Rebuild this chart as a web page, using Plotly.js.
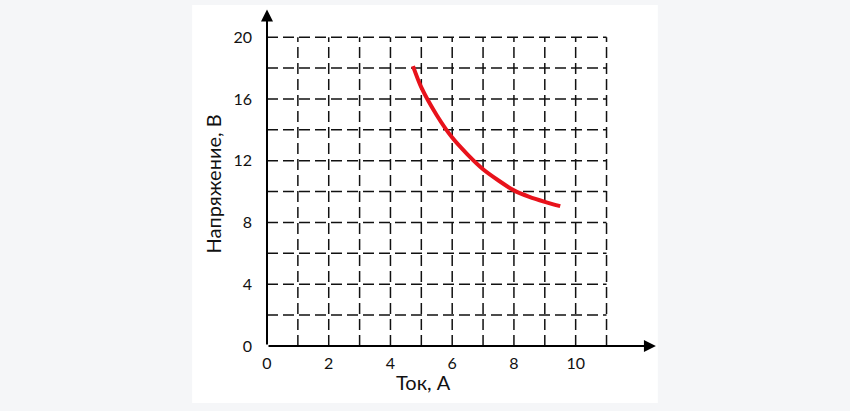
<!DOCTYPE html>
<html><head><meta charset="utf-8">
<script src="https://cdn.plot.ly/plotly-3.0.1.min.js"></script>
<style>html,body{margin:0;padding:0;background:#f5f6f8;}</style>
</head><body><div id="chart" style="width:850px;height:411px;"></div>
<script>
// Data
const currentA = [4.73, 5.0, 5.5, 6.0, 6.5, 7.0, 7.5, 8.0, 8.5, 9.0, 9.5];
const voltageV = [18.13, 16.75, 14.95, 13.5, 12.4, 11.45, 10.72, 10.08, 9.66, 9.34, 9.06];
const xTickVals = [0, 2, 4, 6, 8, 10];
const yTickVals = [0, 4, 8, 12, 16, 20];
const xGrid = [1, 2, 3, 4, 5, 6, 7, 8, 9, 10, 11];
const yGrid = [2, 4, 6, 8, 10, 12, 14, 16, 18, 20];
const xGridMax = 11, yGridMax = 20;
const xAxisEnd = 12.6, yAxisEnd = 21.8;

const dash = '11px,5px';
const shapes = [];
shapes.push({type:'rect', xref:'paper', yref:'paper', x0:-0.191, x1:0.997, y0:-0.17, y1:1.018,
  fillcolor:'#ffffff', line:{width:0}, layer:'below'});
xGrid.forEach(v => shapes.push({type:'line', xref:'x', yref:'y', x0:v, x1:v, y0:0, y1:yGridMax,
  line:{color:'#111', width:1.5, dash:dash}, layer:'below'}));
yGrid.forEach(v => shapes.push({type:'line', xref:'x', yref:'y', x0:0, x1:xGridMax, y0:v, y1:v,
  line:{color:'#111', width:1.5, dash:dash}, layer:'below'}));

const annotations = [
  {x:xAxisEnd, y:0, ax:0, ay:0, xref:'x', yref:'y', axref:'x', ayref:'y', text:'', showarrow:true,
   arrowhead:2, arrowsize:1.2, arrowwidth:2, arrowcolor:'#000'},
  {x:0, y:yAxisEnd, ax:0, ay:0, xref:'x', yref:'y', axref:'x', ayref:'y', text:'', showarrow:true,
   arrowhead:2, arrowsize:1.2, arrowwidth:2, arrowcolor:'#000'},
  {text:'Ток, А', xref:'paper', yref:'paper', x:0.398, y:-0.107, showarrow:false,
   xanchor:'center', yanchor:'middle', font:{size:20, color:'#111'}},
  {text:'Напряжение, В', xref:'paper', yref:'paper', x:-0.138, y:0.485, showarrow:false, textangle:-90,
   xanchor:'center', yanchor:'middle', font:{size:20, color:'#111'}}
];

const trace = {x: currentA, y: voltageV, mode:'lines', type:'scatter',
  line:{color:'#e8121b', width:4, shape:'spline', smoothing:0.8}, hoverinfo:'skip'};

const layout = {
  width:850, height:411,
  margin:{l:267, r:191, t:11, b:65},
  paper_bgcolor:'#f5f6f8', plot_bgcolor:'rgba(0,0,0,0)',
  showlegend:false,
  font:{family:'Lato, "Open Sans", sans-serif', color:'#111'},
  xaxis:{range:[0, 12.7], tickvals:xTickVals, ticktext:xTickVals.map(String), showgrid:false, zeroline:false,
    showline:false, ticks:'', ticklabelstandoff:6, tickfont:{size:16, color:'#111'}},
  yaxis:{range:[0, 21.7], tickvals:yTickVals, ticktext:yTickVals.map(String), showgrid:false, zeroline:false,
    showline:false, ticks:'', ticklabelstandoff:14, tickfont:{size:16, color:'#111'}},
  shapes:shapes, annotations:annotations
};
Plotly.newPlot('chart', [trace], layout, {displayModeBar:false, staticPlot:true});
</script></body></html>
